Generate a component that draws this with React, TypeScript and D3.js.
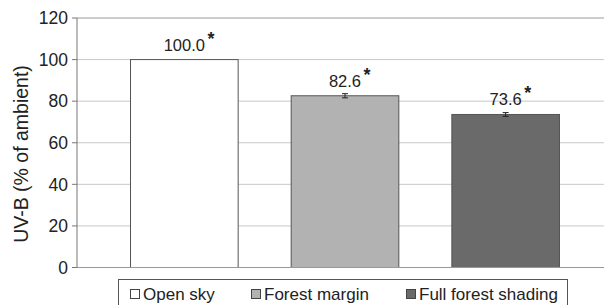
import React from "react";
import * as d3 from "d3";

const categories = ["Open sky", "Forest margin", "Full forest shading"];
const values = [100.0, 82.6, 73.6];
const errors = [0, 1.0, 0.9];
const colors = ["#ffffff", "#b2b2b2", "#6a6a6a"];
const yTicks = [0, 20, 40, 60, 80, 100, 120];

const W = 604;
const H = 305;
const FONT = "Arial, 'Liberation Sans', sans-serif";

export default function App() {
  const y = d3.scaleLinear().domain([0, 120]).range([267.5, 18]);
  const x = d3
    .scaleBand<string>()
    .domain(categories)
    .range([104, 586])
    .paddingInner(0.33)
    .paddingOuter(0.165);
  const plotLeft = 77;
  const plotRight = 604;

  const legendX = [130, 251, 406];

  return (
    <svg
      width={W}
      height={H}
      style={{ position: "absolute", left: 0, top: 0, background: "#fff" }}
      fontFamily={FONT}
    >
      {/* gridlines */}
      {yTicks.map((t) =>
        t === 0 ? null : (
          <line
            key={"g" + t}
            x1={plotLeft}
            x2={plotRight}
            y1={y(t)}
            y2={y(t)}
            stroke={t === 120 ? "#9a9a9a" : "#c8c8c8"}
            strokeWidth={1}
          />
        )
      )}
      {/* ticks and labels */}
      {yTicks.map((t) => (
        <g key={"t" + t}>
          <line x1={72} x2={plotLeft} y1={y(t)} y2={y(t)} stroke="#777" />
          <text
            x={68}
            y={y(t)}
            dy="0.36em"
            textAnchor="end"
            fontSize={17.5}
            fill="#222"
          >
            {t}
          </text>
        </g>
      ))}
      {/* bars */}
      {categories.map((c, i) => {
        const bx = x(c)!;
        const bw = x.bandwidth();
        const top = y(values[i]);
        const cx = bx + bw / 2;
        const e = errors[i];
        const labelY = top - 9;
        const label = values[i].toFixed(1);
        const halfW = (label.length >= 5 ? 2.502 : 1.946) * 16.5 / 2;
        return (
          <g key={c}>
            <rect
              x={bx}
              y={top}
              width={bw}
              height={y(0) - top}
              fill={colors[i]}
              stroke="#555"
              strokeWidth={1}
            />
            {e > 0 && (
              <g stroke="#222" strokeWidth={1}>
                <line x1={cx} x2={cx} y1={y(values[i] + e)} y2={y(values[i] - e)} />
                <line x1={cx - 3} x2={cx + 3} y1={y(values[i] + e)} y2={y(values[i] + e)} />
                <line x1={cx - 3} x2={cx + 3} y1={y(values[i] - e)} y2={y(values[i] - e)} />
              </g>
            )}
            <text x={cx} y={labelY} textAnchor="middle" fontSize={16.5} fill="#222">
              {label}
            </text>
            <text
              x={cx + halfW + 2.5}
              y={labelY - 6}
              fontSize={18}
              fontWeight="bold"
              fill="#222"
            >
              *
            </text>
          </g>
        );
      })}
      {/* axes */}
      <line x1={plotLeft} x2={plotLeft} y1={y(120)} y2={y(0)} stroke="#777" />
      <line x1={plotLeft} x2={plotRight} y1={y(0)} y2={y(0)} stroke="#999" />
      {/* y axis title */}
      <text
        transform={`translate(27.5,${154}) rotate(-90)`}
        textAnchor="middle"
        fontSize={19.5}
        fill="#222"
      >
        UV-B (% of ambient)
      </text>
      {/* legend */}
      <rect x={118.5} y={279.5} width={449} height={40} fill="#fff" stroke="#555" />
      {categories.map((c, i) => (
        <g key={"l" + c}>
          <rect
            x={legendX[i] + 0.5}
            y={289.5}
            width={9}
            height={9}
            fill={colors[i]}
            stroke="#444"
          />
          <text x={legendX[i] + 13} y={299.5} fontSize={17} fill="#222">
            {c}
          </text>
        </g>
      ))}
    </svg>
  );
}
